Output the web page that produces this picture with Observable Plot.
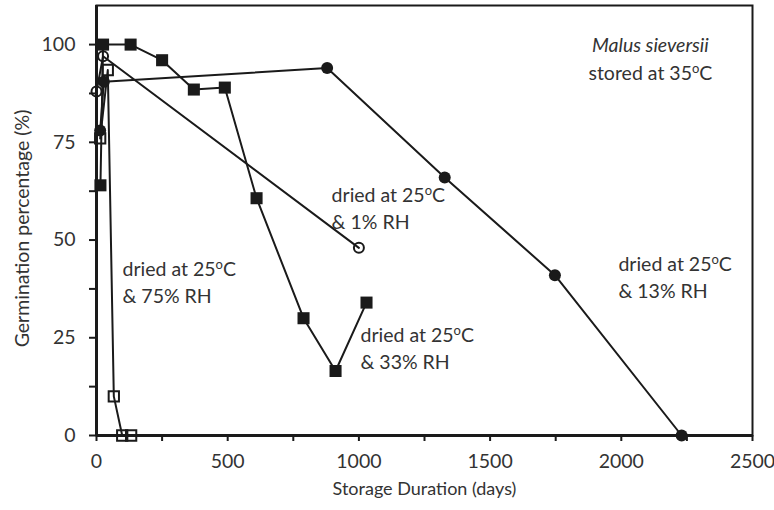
<!DOCTYPE html>
<html>
<head>
<meta charset="utf-8">
<script src="https://cdn.jsdelivr.net/npm/d3@7"></script>
<script src="https://cdn.jsdelivr.net/npm/@observablehq/plot@0.6"></script>
<style>
  html, body { margin: 0; padding: 0; background: #fff; }
</style>
</head>
<body>
<div id="chart"></div>
<script>
// Data
const rh1Days  = [0, 25, 1000];
const rh1Pct   = [88, 97, 48];

const rh13Days = [14, 28, 879, 1327, 1747, 2230];
const rh13Pct  = [78, 90.5, 94, 66, 41, 0];

const rh33Days = [15, 25, 130, 250, 371, 489, 610, 789, 911, 1029];
const rh33Pct  = [64, 100, 100, 96, 88.5, 89, 60.7, 30, 16.5, 34];

const rh75Days = [14, 43, 66, 98, 132];
const rh75Pct  = [76, 93.5, 10, 0, 0];

const xTicks = [0, 250, 500, 750, 1000, 1250, 1500, 1750, 2000, 2250, 2500];
const yTicks = [0, 12.5, 25, 37.5, 50, 62.5, 75, 87.5, 100];

const xTitle = "Storage Duration (days)";
const yTitle = "Germination percentage (%)";

const toRows = (days, pct) => days.map((d, i) => ({day: d, pct: pct[i]}));
const s1 = toRows(rh1Days, rh1Pct);
const s13 = toRows(rh13Days, rh13Pct);
const s33 = toRows(rh33Days, rh33Pct);
const s75 = toRows(rh75Days, rh75Pct);

const ink = "#1a1a1a";
const ann = (txt, x, y, extra = {}) =>
  Plot.text([txt], {x: () => x, y: () => y, text: d => d, textAnchor: "start",
    lineAnchor: "middle", lineHeight: 1.38, fontSize: 19.5, fill: "#333", ...extra});

const chart = Plot.plot({
  width: 774,
  height: 510,
  marginLeft: 96,
  marginRight: 22,
  marginTop: 5,
  marginBottom: 75,
  x: {domain: [0, 2500]},
  y: {domain: [0, 110]},
  style: {fontFamily: "Lato, 'Open Sans', sans-serif", fontSize: "19px", color: "#333", background: "#fff"},
  marks: [
    Plot.frame({stroke: ink, strokeWidth: 2}),
    Plot.axisX({ticks: xTicks, tickFormat: d => d % 500 === 0 ? String(d) : "", tickSize: 6,
      tickPadding: 13, label: null, stroke: ink, strokeWidth: 2, fill: "#333", fontSize: 19.5}),
    Plot.axisY({ticks: yTicks, tickFormat: d => d % 25 === 0 ? String(d) : "", tickSize: 7,
      tickPadding: 14, label: null, stroke: ink, strokeWidth: 2, fill: "#333", fontSize: 19.5}),
    Plot.ruleX([0], {stroke: ink, strokeWidth: 3}),
    Plot.ruleY([0], {stroke: ink, strokeWidth: 3}),
    Plot.text([xTitle], {frameAnchor: "bottom", dy: 59, fontSize: 18, fill: "#333"}),
    Plot.text([yTitle], {frameAnchor: "left", textAnchor: "middle", dx: -74, dy: 8, rotate: -90, fontSize: 19.5, fill: "#333"}),

    Plot.line(s1, {x: "day", y: "pct", stroke: ink, strokeWidth: 2}),
    Plot.line(s13, {x: "day", y: "pct", stroke: ink, strokeWidth: 2}),
    Plot.line(s33, {x: "day", y: "pct", stroke: ink, strokeWidth: 2}),
    Plot.line(s75, {x: "day", y: "pct", stroke: ink, strokeWidth: 2}),

    Plot.dot(s13, {x: "day", y: "pct", r: 6, fill: ink, stroke: "none"}),
    Plot.dot(s33, {x: "day", y: "pct", r: 6.8, symbol: "square", fill: ink, stroke: "none"}),
    Plot.dot(s75, {x: "day", y: "pct", r: 5.8, symbol: "square", fill: "none", stroke: ink, strokeWidth: 2}),
    Plot.dot(s1, {x: "day", y: "pct", r: 5, fill: "none", stroke: ink, strokeWidth: 2}),

    ann("dried at 25^oC\n& 1% RH", 896, 58.5),
    ann("dried at 25^oC\n& 75% RH", 99, 39.6),
    ann("dried at 25^oC\n& 33% RH", 1006, 22.7),
    ann("dried at 25^oC\n& 13% RH", 1989, 40.9),
    ann("Malus sieversii", 2111, 100.3, {textAnchor: "middle", fontStyle: "italic"}),
    ann("stored at 35^oC", 2111, 93.1, {textAnchor: "middle"})
  ]
});

// Render "^o" as a superscript o
const NS = "http://www.w3.org/2000/svg";
chart.querySelectorAll("text, tspan").forEach(el => {
  if (el.children.length === 0 && el.textContent.includes("^o")) {
    const [a, b] = el.textContent.split("^o");
    el.textContent = "";
    const t1 = document.createElementNS(NS, "tspan"); t1.textContent = a;
    const t2 = document.createElementNS(NS, "tspan"); t2.textContent = "o";
    t2.setAttribute("dy", "-7"); t2.setAttribute("font-size", "13");
    const t3 = document.createElementNS(NS, "tspan"); t3.textContent = b;
    t3.setAttribute("dy", "7");
    el.append(t1, t2, t3);
  }
});

document.getElementById("chart").append(chart);
</script>
</body>
</html>
